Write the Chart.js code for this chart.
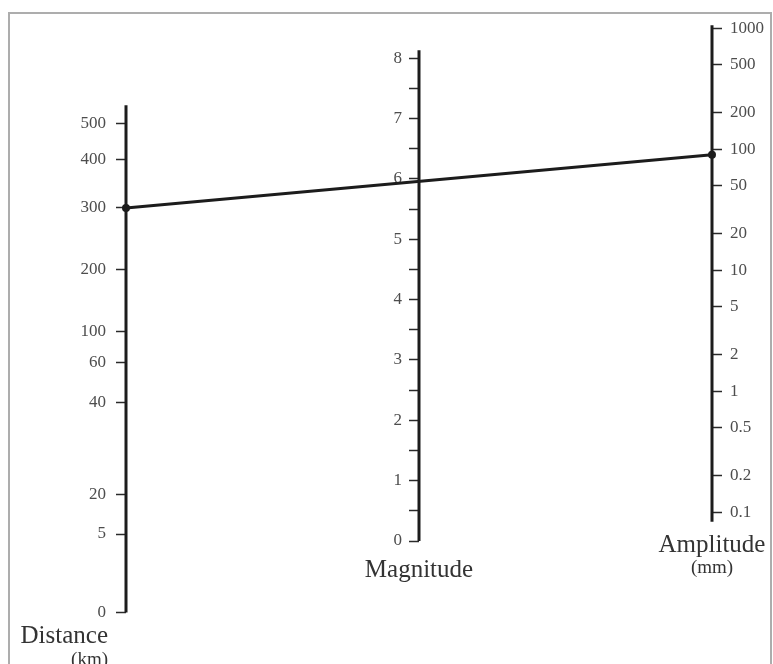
<!DOCTYPE html>
<html>
<head>
<meta charset="utf-8">
<script src="https://cdn.jsdelivr.net/npm/chart.js@4.4.1/dist/chart.umd.min.js"></script>
<style>
  html, body { margin: 0; padding: 0; background: #fff; }
  #wrap { position: relative; width: 773px; height: 664px; overflow: hidden; }
  #frame { position: absolute; left: 8px; top: 12px; right: 1px; bottom: -10px; border: 2px solid #adadad; }
  canvas { position: absolute; left: 0; top: 0; }
</style>
</head>
<body>
<div id="wrap">
  <div id="frame"></div>
  <canvas id="nomogram" width="773" height="664"></canvas>
</div>
<script>
// distance scale (km) and where each mark sits on the nomogram (-log A0 units)
var distanceLabels = ["0", "5", "20", "40", "60", "100", "200", "300", "400", "500"];
var distanceValues = [0.65, 1.3, 1.63, 2.39, 2.72, 2.98, 3.49, 4.0, 4.4, 4.7];
var distanceRange = [0.65, 4.85];

// magnitude scale, labelled on whole numbers
var magnitudeTicks = [0, 0.5, 1, 1.5, 2, 2.5, 3, 3.5, 4, 4.5, 5, 5.5, 6, 6.5, 7, 7.5, 8];
var magnitudeRange = [0, 8.13];

// amplitude scale (mm), logarithmic
var amplitudeTicks = [0.1, 0.2, 0.5, 1, 2, 5, 10, 20, 50, 100, 200, 500, 1000];
var amplitudeRange = [0.083, 1060];

// the reading drawn across the three scales
var readingDistance = "300";
var readingMagnitude = 6;
var readingAmplitude = 90;

var axisTitles = ["Distance", "Magnitude", "Amplitude"];
var axisUnits = ["(km)", "", "(mm)"];

var serif = "'Liberation Serif', 'Times New Roman', serif";
var tickFont = { family: serif, size: 17 };
var inkColor = "#1c1c1c";
var labelColor = "#4d4d4d";

function tickGrid() {
    return {
        drawOnChartArea: false,
        drawTicks: true,
        tickLength: 10,
        tickWidth: 1.5,
        tickColor: "#2a2a2a"
    };
}

function axisLine(col, range, axisId) {
    return {
        data: [{ x: col, y: range[0] }, { x: col, y: range[1] }],
        yAxisID: axisId,
        borderColor: inkColor,
        borderWidth: 3,
        pointRadius: 0,
        fill: false,
        clip: false
    };
}

// reading line + end dots, placed with the chart's own scales
var readingPlugin = {
    id: "reading",
    afterDatasetsDraw: function(chart) {
        var ctx = chart.ctx;
        var x = chart.scales.x;
        var d = distanceValues[distanceLabels.indexOf(readingDistance)];
        var x0 = x.getPixelForValue(0), y0 = chart.scales.yDist.getPixelForValue(d);
        var x1 = x.getPixelForValue(2), y1 = chart.scales.yAmp.getPixelForValue(readingAmplitude);
        ctx.save();
        ctx.strokeStyle = inkColor;
        ctx.fillStyle = inkColor;
        ctx.lineWidth = 3;
        ctx.beginPath();
        ctx.moveTo(x0, y0);
        ctx.lineTo(x1, y1);
        ctx.stroke();
        [[x0, y0], [x1, y1]].forEach(function(p) {
            ctx.beginPath();
            ctx.arc(p[0], p[1], 4, 0, Math.PI * 2);
            ctx.fill();
        });
        ctx.restore();
    }
};

// titles under each scale
var captionPlugin = {
    id: "captions",
    afterDraw: function(chart) {
        var ctx = chart.ctx;
        var x = chart.scales.x;
        var bottoms = [
            chart.scales.yDist.getPixelForValue(distanceRange[0]),
            chart.scales.yMag.getPixelForValue(magnitudeRange[0]),
            chart.scales.yAmp.getPixelForValue(amplitudeRange[0])
        ];
        ctx.save();
        ctx.fillStyle = "#333";
        ctx.textBaseline = "alphabetic";
        // Distance: right aligned, left of its scale
        ctx.textAlign = "right";
        ctx.font = "25px " + serif;
        ctx.fillText(axisTitles[0], x.getPixelForValue(0) - 18, bottoms[0] + 30);
        ctx.font = "19px " + serif;
        ctx.fillText(axisUnits[0], x.getPixelForValue(0) - 18, bottoms[0] + 52);
        // Magnitude and Amplitude: centred on their scales
        ctx.textAlign = "center";
        ctx.font = "25px " + serif;
        ctx.fillText(axisTitles[1], x.getPixelForValue(1), bottoms[1] + 36);
        ctx.fillText(axisTitles[2], x.getPixelForValue(2), bottoms[2] + 30);
        ctx.font = "19px " + serif;
        ctx.fillText(axisUnits[2], x.getPixelForValue(2), bottoms[2] + 51);
        ctx.restore();
    }
};

new Chart("nomogram", {
    type: "line",
    data: {
        datasets: [
            axisLine(0, distanceRange, "yDist"),
            axisLine(1, magnitudeRange, "yMag"),
            axisLine(2, amplitudeRange, "yAmp")
        ]
    },
    options: {
        responsive: false,
        animation: false,
        layout: {
            padding: { left: 10, right: 0, top: 20, bottom: 44 }
        },
        plugins: {
            legend: { display: false },
            tooltip: { enabled: false }
        },
        scales: {
            x: {
                type: "linear",
                min: 0,
                max: 2,
                display: false
            },
            yDist: {
                type: "linear",
                position: "left",
                min: 0.588,
                max: 5.555,
                afterBuildTicks: function(s) {
                    s.ticks = distanceValues.map(function(v) { return { value: v }; });
                },
                afterFit: function(s) { s.width = 116; },
                ticks: {
                    autoSkip: false,
                    padding: 10,
                    color: labelColor,
                    font: tickFont,
                    callback: function(v, i) { return distanceLabels[i]; }
                },
                grid: tickGrid(),
                border: { display: false }
            },
            yMag: {
                type: "linear",
                position: { x: 1 },
                min: -1.3085,
                max: 8.629,
                afterBuildTicks: function(s) {
                    s.ticks = magnitudeTicks.map(function(v) { return { value: v }; });
                },
                ticks: {
                    autoSkip: false,
                    color: labelColor,
                    font: tickFont,
                    // centred-position axes ignore padding, so pad the label text itself
                    callback: function(v) { return v % 1 === 0 ? String(v) + "\u2002\u2002" : ""; }
                },
                grid: tickGrid(),
                border: { display: false }
            },
            yAmp: {
                type: "logarithmic",
                position: "right",
                min: 0.01281,
                max: 1164.5,
                afterBuildTicks: function(s) {
                    s.ticks = amplitudeTicks.map(function(v) { return { value: v }; });
                },
                afterFit: function(s) { s.width = 61; },
                ticks: {
                    autoSkip: false,
                    padding: 8,
                    color: labelColor,
                    font: tickFont,
                    callback: function(v) { return String(v); }
                },
                grid: tickGrid(),
                border: { display: false }
            }
        }
    },
    plugins: [readingPlugin, captionPlugin]
});
</script>
</body>
</html>
